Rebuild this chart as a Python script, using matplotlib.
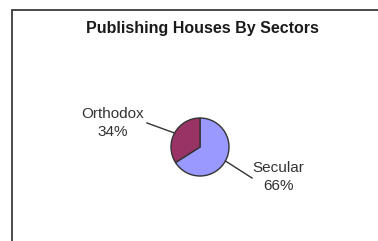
import numpy as np
import matplotlib
matplotlib.use("Agg")
import matplotlib.pyplot as plt
from matplotlib.patches import Rectangle

plt.rcParams['font.family'] = ['Liberation Sans', 'DejaVu Sans']

title = "Publishing Houses By Sectors"
sectors = ['Secular', 'Orthodox']
shares = [66, 34]
colors = ['#9999FF', '#993366']

W, H = 378, 241
fig = plt.figure(figsize=(W / 100, H / 100), dpi=100)
ax = fig.add_axes([0, 0, 1, 1])
ax.set_xlim(0, W)
ax.set_ylim(0, H)
ax.axis('off')

# chart frame (left + top edges visible)
ax.add_patch(Rectangle((12, -10), 420, H - 10 + 10, fill=False,
                       edgecolor='#3a3a3a', linewidth=1.3))

ax.text(202, 213, title, ha='center', va='center', fontsize=11.5,
        fontweight='bold', color='#1a1a1a')

cx, cy, r = 200, 94, 29
wedges, _ = ax.pie(shares, colors=colors, startangle=90, counterclock=False,
                   center=(cx, cy), radius=r, frame=True,
                   wedgeprops=dict(edgecolor='#333333', linewidth=1.0))
ax.set_xlim(0, W)
ax.set_ylim(0, H)
ax.set_aspect('equal')
ax.axis('off')

# label ends of leader lines and text centers
line_end = {'Secular': (252, 63), 'Orthodox': (147, 118)}
text_pos = {'Secular': (278, 64), 'Orthodox': (113, 118)}

for w, name, val in zip(wedges, sectors, shares):
    mid = np.deg2rad((w.theta1 + w.theta2) / 2)
    sx, sy = cx + r * np.cos(mid), cy + r * np.sin(mid)
    ex, ey = line_end[name]
    ax.plot([sx, ex], [sy, ey], color='#333333', linewidth=1.0)
    tx, ty = text_pos[name]
    ax.text(tx, ty, f"{name}\n{val}%", ha='center', va='center',
            fontsize=11, color='#333333', linespacing=1.45)

fig.savefig('out.png', dpi=100)
